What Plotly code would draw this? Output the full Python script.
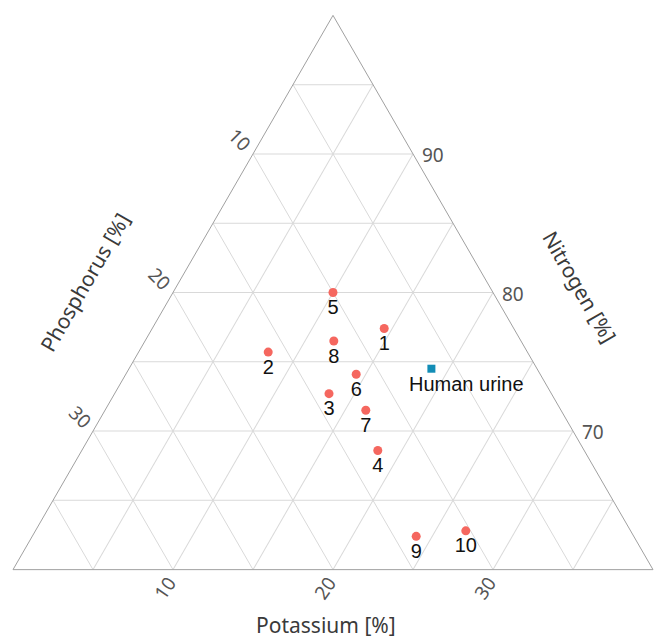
import plotly.graph_objects as go

# ---- data ----
labels = ["1", "2", "3", "4", "5", "6", "7", "8", "9", "10"]
nitrogen = [77.4, 75.7, 72.7, 68.6, 80.0, 74.1, 71.5, 76.5, 62.4, 62.8]
phosphorus = [8.1, 16.2, 13.9, 12.9, 10.0, 11.5, 12.2, 11.7, 13.6, 10.3]
potassium = [14.5, 8.1, 13.4, 18.5, 10.0, 14.4, 16.3, 11.8, 24.0, 26.9]

urine_label = "Human urine"
urine_n = [74.5]
urine_p = [6.6]
urine_k = [18.9]

n_ticks = [70, 80, 90]
p_ticks = [10, 20, 30]
k_ticks = [10, 20, 30]

N_MIN = 60
SPAN = 40

GRID = "#d9d9d9"
EDGE = "#a0a0a0"
TICKCOL = "#555555"
TITLECOL = "#3a3a3a"


def to_paper(n, p, k):
    wn = (n - N_MIN) / SPAN
    wk = k / SPAN
    return wk + 0.5 * wn, wn


fig = go.Figure()

fig.add_trace(go.Scatterternary(
    a=nitrogen, b=phosphorus, c=potassium,
    mode="markers+text", text=labels, textposition="bottom center",
    textfont=dict(family="Liberation Sans, Arial", size=20, color="#111111"),
    marker=dict(symbol="circle", size=9, color="#F5675F"),
    showlegend=False, cliponaxis=False,
))

fig.add_trace(go.Scatterternary(
    a=urine_n, b=urine_p, c=urine_k,
    mode="markers",
    marker=dict(symbol="square", size=8, color="#128DB6"),
    showlegend=False, cliponaxis=False,
))

axis_common = dict(
    dtick=5, tick0=0, showticklabels=False, ticks="",
    gridcolor=GRID, gridwidth=1, linecolor=EDGE, linewidth=1, showline=True,
    showgrid=True, title=dict(text=""),
)

fig.update_layout(
    width=654, height=639,
    margin=dict(l=13, r=1, t=15, b=69),
    paper_bgcolor="white",
    ternary=dict(
        sum=100, bgcolor="white",
        domain=dict(x=[0, 1], y=[0, 1]),
        aaxis=dict(min=N_MIN, **axis_common),
        baxis=dict(min=0, **axis_common),
        caxis=dict(min=0, **axis_common),
    ),
)

ann = []
tickfont = dict(family="Noto Sans, Open Sans", size=19, color=TICKCOL)
# Nitrogen ticks on right edge
for v in n_ticks:
    x, y = to_paper(v, 0, 100 - v)
    ann.append(dict(x=x, y=y, xref="paper", yref="paper", text=str(v), showarrow=False,
                    xanchor="left", yanchor="middle", xshift=7, yshift=-1, font=tickfont))
# Phosphorus ticks on left edge
for v in p_ticks:
    x, y = to_paper(100 - v, v, 0)
    ann.append(dict(x=x, y=y, xref="paper", yref="paper", text=str(v), showarrow=False,
                    xanchor="center", yanchor="middle", xshift=-13, yshift=14,
                    textangle=45, font=tickfont))
# Potassium ticks on bottom edge
for v in k_ticks:
    x, y = to_paper(N_MIN, SPAN - v, v)
    ann.append(dict(x=x, y=y, xref="paper", yref="paper", text=str(v), showarrow=False,
                    xanchor="center", yanchor="middle", xshift=-8, yshift=-18,
                    textangle=-55, font=tickfont))

titlefont = dict(family="Noto Sans, Open Sans", size=21, color=TITLECOL)
x, y = to_paper(N_MIN, SPAN / 2, SPAN / 2)
ann.append(dict(x=x, y=y, xref="paper", yref="paper", text="Potassium [%]", showarrow=False,
                xanchor="center", yanchor="middle", xshift=-7, yshift=-55, font=titlefont))
x, y = to_paper(N_MIN + SPAN / 2, SPAN / 2, 0)
ann.append(dict(x=x, y=y, xref="paper", yref="paper", text="Phosphorus [%]", showarrow=False,
                xanchor="center", yanchor="middle", xshift=-89, yshift=10,
                textangle=-60, font=titlefont))
x, y = to_paper(N_MIN + SPAN / 2, 0, SPAN / 2)
ann.append(dict(x=x, y=y, xref="paper", yref="paper", text="Nitrogen [%]", showarrow=False,
                xanchor="center", yanchor="middle", xshift=87, yshift=6,
                textangle=60, font=titlefont))

# Human urine label
x, y = to_paper(urine_n[0], urine_p[0], urine_k[0])
ann.append(dict(x=x, y=y, xref="paper", yref="paper", text=urine_label, showarrow=False,
                xanchor="left", yanchor="middle", xshift=-24, yshift=-15,
                font=dict(family="Liberation Sans, Arial", size=20, color="#111111")))

fig.update_layout(annotations=ann)

fig.write_html("out.html")
